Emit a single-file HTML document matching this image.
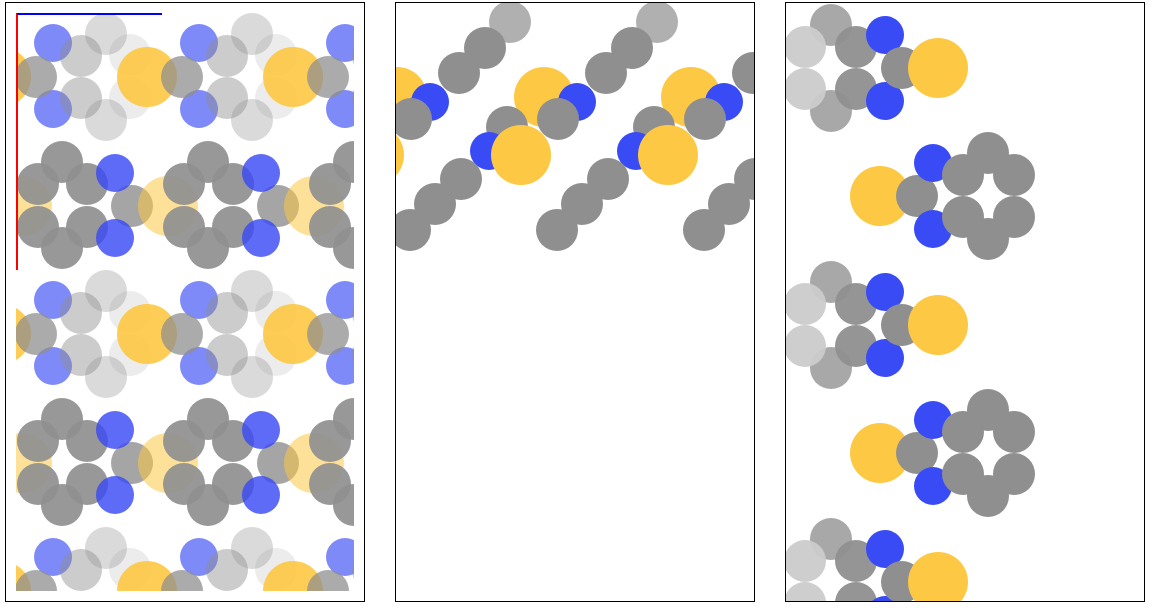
<!DOCTYPE html>
<html><head><meta charset="utf-8"><style>
html,body{margin:0;padding:0;background:#fff;width:1153px;height:611px;overflow:hidden;}
svg{display:block;overflow:hidden;}
</style></head><body>
<svg id="s" width="1153" height="611" viewBox="0 0 1153 611" xmlns="http://www.w3.org/2000/svg">
<defs>
<clipPath id="c1"><rect x="16" y="13" width="338" height="578"/></clipPath>
<clipPath id="c2"><rect x="396" y="3" width="358" height="598"/></clipPath>
<clipPath id="c3"><rect x="786" y="3" width="358" height="598"/></clipPath>
</defs>
<rect x="5.5" y="2.5" width="359" height="599" fill="none" stroke="#000"/>
<rect x="395.5" y="2.5" width="359" height="599" fill="none" stroke="#000"/>
<rect x="785.5" y="2.5" width="359" height="599" fill="none" stroke="#000"/>
<g id="p1" clip-path="url(#c1)"></g>
<g id="p2" clip-path="url(#c2)"></g>
<g id="p3" clip-path="url(#c3)"></g>
<line x1="17" y1="13" x2="17" y2="270" stroke="#f00" stroke-width="2"/>
<line x1="17" y1="14" x2="162" y2="14" stroke="#00f" stroke-width="2"/>
</svg>
<script>
const Y='#fdc844',B='#394bf5',G='#8f8f8f';
const p1RowA=[[53,43,19,B,.65],[53,109,19,B,.65],[106,34,21,G,.33],[106,120,21,G,.33],[81,56,21,G,.45],[81,98,21,G,.45],[130,55,21,G,.17],[130,98,21,G,.17],[36,77,21,G,.75],[147,77,30,Y,.9]];
const p1RowB=[[22,206,30,Y,.55],[132,206,21,G,.8],[62,162,21,G,.92],[38,184,21,G,.92],[87,184,21,G,.92],[38,227,21,G,.92],[87,227,21,G,.92],[62,248,21,G,.92],[115,173,19,B,.82],[115,238,19,B,.82]];
const p2Atoms=[[510,22,21,'#b0b0b0',1],[485,48,21,G,1],[459,73,21,G,1],[544,97,30,Y,1],[577,102,19,B,1],[558,119,21,G,1],[507,127,21,G,1],[489,151,19,B,1],[521,155,30,Y,1],[461,179,21,G,1],[435,204,21,G,1],[410,230,21,G,1]];
const p3GroupA=[[831,25,21,'#a3a3a3',.95],[831,111,21,'#a3a3a3',.95],[805,47,21,'#cbcbcb',.95],[805,89,21,'#cbcbcb',.95],[856,47,21,G,.95],[856,89,21,G,.95],[885,35,19,B,1],[885,101,19,B,1],[902,68,21,G,1],[938,68,30,Y,1]];
const p3GroupB=[[880,196,30,Y,1],[917,196,21,G,1],[933,163,19,B,1],[933,229,19,B,1],[963,175,21,G,1],[1014,175,21,G,1],[988,153,21,G,1],[963,217,21,G,1],[1014,217,21,G,1],[988,239,21,G,1]];
const NS='http://www.w3.org/2000/svg';
function atom(g,a,dx,dy,box){
  const cx=a[0]+dx, cy=a[1]+dy, r=a[2];
  if(cx+r<box[0]||cx-r>box[2]||cy+r<box[1]||cy-r>box[3]) return;
  const c=document.createElementNS(NS,'circle');
  c.setAttribute('cx',cx);c.setAttribute('cy',cy);c.setAttribute('r',r);
  c.setAttribute('fill',a[3]);c.setAttribute('fill-opacity',a[4]);
  
  
  g.appendChild(c);
}
const b1=[16,13,354,591],b2=[396,3,754,601],b3=[786,3,1144,601];
const g1=document.getElementById('p1'),g2=document.getElementById('p2'),g3=document.getElementById('p3');
for(const dy of [-257,0,257,514]){
  for(const dx of [-146,0,146,292]){
    p1RowA.forEach(a=>atom(g1,a,dx,dy,b1));
  }
  for(const dx of [-146,0,146,292]){
    p1RowB.forEach(a=>atom(g1,a,dx,dy,b1));
  }
}
for(const dx of [-147,0,147,294]) p2Atoms.forEach(a=>atom(g2,a,dx,0,b2));
for(const dy of [-257,0,257,514]){
  p3GroupA.forEach(a=>atom(g3,a,0,dy,b3));
  p3GroupB.forEach(a=>atom(g3,a,0,dy,b3));
}
</script>
</body></html>
